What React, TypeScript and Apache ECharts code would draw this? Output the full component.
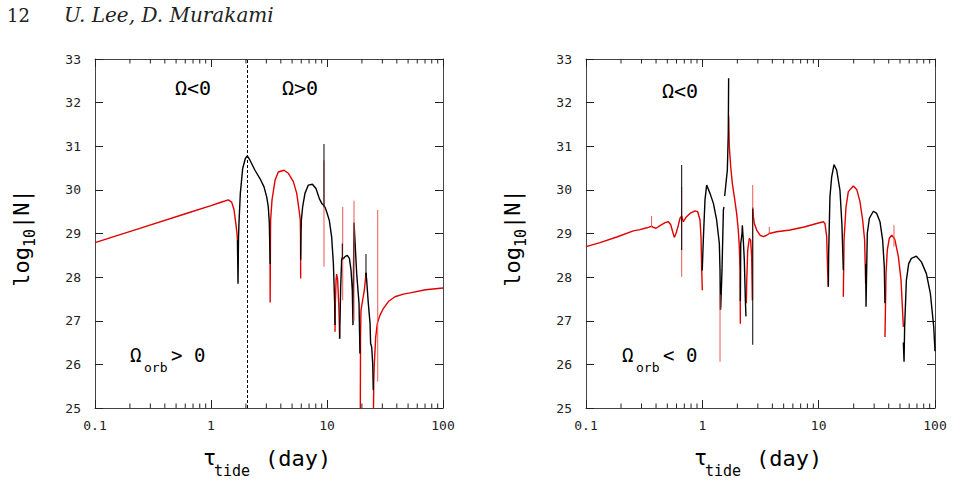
import React, { useEffect, useRef } from "react";
import * as echarts from "echarts";

type Pt = [number, number];
type Spike = [number, number, number]; // tau (day), low, high

// ---- axis ranges and tick labels ----
const X_MIN = 0.1;
const X_MAX = 100;
const Y_MIN = 25;
const Y_MAX = 33;
const xTickLabels = ["0.1", "1", "10", "100"];
const minorTickValues = [
  0.2, 0.3, 0.4, 0.5, 0.6, 0.7, 0.8, 0.9,
  2, 3, 4, 5, 6, 7, 8, 9,
  20, 30, 40, 50, 60, 70, 80, 90,
];
const omegaBoundary = 2.04; // tau where Omega changes sign (left panel)

// ---- left panel: Omega_orb > 0 ----
const leftRed: Pt[][] = [
  [[0.1, 28.79], [0.251, 29.13], [0.631, 29.47], [1.0, 29.64], [1.202, 29.71], [1.41, 29.77], [1.507, 29.72], [1.578, 29.55], [1.633, 29.25], [1.675, 29.0], [1.69, 28.85]],
  [[3.23, 28.3], [3.236, 27.42], [3.255, 28.9], [3.266, 29.31], [3.357, 29.77], [3.565, 30.22], [3.802, 30.41], [4.256, 30.45], [4.645, 30.38], [5.129, 30.19], [5.483, 29.92], [5.741, 29.54], [5.888, 29.31], [5.916, 28.9], [5.929, 27.97]],
  [[11.72, 26.75], [11.8, 27.4], [11.97, 27.93], [12.11, 28.07], [12.36, 27.93], [12.68, 27.24], [12.85, 26.59]],
  [[19.36, 24.5], [19.45, 26.6], [19.63, 27.24], [20.28, 27.47], [20.99, 27.7], [21.53, 28.0], [21.68, 28.1]],
  [[25.06, 24.5], [25.3, 25.6], [25.59, 26.02], [26.3, 26.63], [27.16, 26.94], [28.64, 27.13], [30.62, 27.28], [33.81, 27.44], [38.55, 27.55], [45.5, 27.61], [52.0, 27.64], [70.8, 27.71], [100, 27.75]],
];
const leftBlack: Pt[][] = [
  [[1.69, 28.85], [1.71, 27.85], [1.726, 28.9], [1.742, 29.23], [1.79, 29.92], [1.875, 30.49], [1.977, 30.72], [2.056, 30.78], [2.168, 30.68], [2.393, 30.45], [2.643, 30.26], [2.864, 30.07], [3.02, 29.84], [3.119, 29.61], [3.184, 29.23], [3.221, 28.5], [3.23, 28.3]],
  [[5.929, 28.4], [5.97, 29.0], [6.012, 29.31], [6.166, 29.61], [6.457, 29.92], [6.902, 30.11], [7.482, 30.13], [8.035, 30.03], [8.59, 29.8], [9.057, 29.68], [9.419, 29.64], [9.616, 29.6], [9.931, 29.5], [10.47, 29.3], [10.96, 28.93], [11.35, 28.31], [11.64, 27.4], [11.72, 26.9]],
  [[12.85, 26.59], [13.12, 27.78], [13.37, 28.39], [13.55, 28.45], [13.84, 28.42], [14.29, 28.47], [14.96, 28.5], [15.6, 28.43], [16.11, 28.16], [16.52, 27.7], [16.75, 26.9], [16.98, 28.5], [17.1, 29.25], [18.03, 28.08], [18.88, 27.4], [19.23, 26.25]],
  [[21.68, 28.1], [21.98, 27.93], [22.7, 27.4], [23.5, 26.94], [23.77, 26.48], [24.27, 26.4], [24.77, 26.02], [25.06, 25.41]],
];
const leftRedSpikes: Spike[] = [
  [9.419, 28.24, 30.68],
  [13.65, 27.47, 29.61],
  [17.1, 27.0, 29.75],
  [27.35, 25.6, 29.54],
];
const leftBlackSpikes: Spike[] = [
  [9.419, 29.6, 31.05],
  [13.55, 28.4, 28.77],
  [21.68, 28.0, 28.53],
];

// ---- right panel: Omega_orb < 0 ----
const rightRed: Pt[][] = [
  [[0.1, 28.7], [0.132, 28.79], [0.184, 28.92], [0.255, 29.06], [0.291, 29.09], [0.321, 29.12], [0.344, 29.14], [0.366, 29.17], [0.379, 29.14], [0.4, 29.12], [0.433, 29.18], [0.478, 29.25], [0.511, 29.27], [0.535, 29.2], [0.556, 29.04], [0.574, 28.91], [0.594, 29.0], [0.622, 29.19], [0.643, 29.35], [0.664, 29.4], [0.687, 29.27], [0.724, 29.37], [0.783, 29.46], [0.865, 29.52], [0.912, 29.5], [0.955, 29.31], [0.975, 28.9], [0.986, 28.24], [1.0, 27.7]],
  [[1.683, 31.7], [1.706, 30.99], [1.754, 30.53], [1.811, 30.15], [1.884, 29.84], [1.972, 29.46], [2.037, 29.08], [2.08, 28.7], [2.109, 28.16], [2.123, 26.93]],
  [[2.388, 27.4], [2.404, 27.85], [2.455, 28.62], [2.535, 28.89], [2.6, 28.85], [2.655, 28.47], [2.692, 27.47]],
  [[2.71, 29.6], [2.748, 29.38], [2.799, 29.23], [2.931, 29.08], [3.133, 28.96], [3.342, 28.93], [3.573, 28.96], [3.767, 29.0], [4.355, 29.04], [5.675, 29.08], [7.5, 29.15], [9.616, 29.23], [10.96, 29.27], [11.32, 29.23], [11.72, 28.93], [11.94, 28.16], [12.11, 27.78]],
  [[16.29, 27.55], [16.52, 28.85], [17.18, 29.61], [17.99, 29.96], [19.86, 30.09], [21.23, 30.01], [22.65, 29.73], [23.88, 29.31], [24.83, 28.85], [25.35, 27.85]],
  [[37.15, 26.63], [37.93, 28.08], [38.9, 28.62], [40.46, 28.89], [42.46, 28.96], [44.36, 28.9], [45.29, 28.85], [48.42, 28.47], [51.05, 27.93], [53.46, 26.86]],
];
const rightBlack: Pt[][] = [
  [[0.998, 28.15], [1.021, 28.9], [1.054, 29.77], [1.089, 30.11], [1.164, 29.92], [1.245, 29.69], [1.327, 29.31], [1.4, 28.77], [1.419, 28.16], [1.429, 27.25], [1.439, 27.3], [1.476, 28.16], [1.517, 29.54], [1.535, 29.61]],
  [[1.556, 29.86], [1.641, 30.46], [1.671, 31.3], [1.683, 32.56]],
  [[2.123, 27.45], [2.138, 28.77], [2.193, 29.0], [2.208, 29.19], [2.249, 28.85], [2.296, 28.39], [2.344, 27.47], [2.371, 27.1]],
  [[12.11, 27.78], [12.19, 28.55], [12.5, 29.84], [12.94, 30.3], [13.55, 30.58], [14.29, 30.45], [15.24, 29.99], [15.85, 29.2], [16.29, 28.16]],
  [[25.35, 28.3], [25.53, 27.32], [26.18, 29.0], [27.29, 29.35], [29.51, 29.51], [31.55, 29.46], [33.65, 29.27], [35.48, 28.85], [36.64, 28.24], [37.15, 27.4]],
  [[53.46, 26.5], [54.2, 26.06], [54.83, 26.86], [56.75, 27.93], [59.43, 28.31], [62.66, 28.43], [69.18, 28.48], [76.38, 28.35], [84.33, 28.08], [91.2, 27.63], [97.5, 26.86], [100, 26.3]],
];
const rightRedSpikes: Spike[] = [
  [0.366, 29.14, 29.4],
  [0.664, 28.01, 30.07],
  [1.419, 26.06, 27.6],
  [2.71, 27.5, 30.11],
  [3.767, 29.0, 29.15],
  [44.36, 28.7, 29.19],
];
const rightBlackSpikes: Spike[] = [
  [0.664, 28.62, 30.57],
  [2.71, 26.45, 29.57],
];

// ---- styles ----
const RED = "#e00000";
const RED_SPIKE = "#ee5555";
const BLACK = "#000000";
const FRAME = "#444444";
const TICK = "#222222";
const MONO = "'DejaVu Sans Mono', monospace";
const SERIF = "'DejaVu Serif', serif";

const grids = [
  { left: 95, top: 59, width: 348, height: 349 },
  { left: 586, top: 59, width: 349, height: 349 },
];

function lineSeries(data: Pt[], color: string, idx: number, width = 1.4, opacity = 1) {
  return {
    type: "line",
    xAxisIndex: idx * 2,
    yAxisIndex: idx * 2,
    data,
    showSymbol: false,
    symbol: "none",
    silent: true,
    clip: true,
    lineStyle: { color, width, opacity },
  };
}

function spikeSeries(spikes: Spike[], color: string, idx: number) {
  return spikes.map((s) =>
    lineSeries([[s[0], s[1]], [s[0], s[2]]], color, idx, 1.1, 0.9)
  );
}

function minorTickSeries(idx: number) {
  return {
    type: "custom",
    xAxisIndex: idx * 2,
    yAxisIndex: idx * 2,
    silent: true,
    clip: false,
    data: minorTickValues.map((v) => [v, Y_MIN]),
    encode: { x: 0, y: 1 },
    renderItem: (_params: any, api: any) => {
      const v = api.value(0);
      const b = api.coord([v, Y_MIN]);
      const t = api.coord([v, Y_MAX]);
      const style = { stroke: TICK, lineWidth: 1 };
      return {
        type: "group",
        children: [
          { type: "line", shape: { x1: b[0], y1: b[1], x2: b[0], y2: b[1] - 4.5 }, style },
          { type: "line", shape: { x1: t[0], y1: t[1], x2: t[0], y2: t[1] + 4.5 }, style },
        ],
      };
    },
  };
}

function xAxes(idx: number) {
  const common = {
    type: "log",
    logBase: 10,
    gridIndex: idx,
    min: X_MIN,
    max: X_MAX,
    axisLine: { show: true, onZero: false, lineStyle: { color: FRAME, width: 1 } },
    axisTick: { show: true, inside: true, length: 8, lineStyle: { color: TICK, width: 1 } },
    splitLine: { show: false },
    minorTick: { show: false },
  };
  return [
    {
      ...common,
      position: "bottom",
      axisLabel: {
        show: true,
        margin: 11,
        fontFamily: MONO,
        fontSize: 13,
        color: "#222",
        formatter: (v: number) => xTickLabels[Math.round(Math.log10(v)) + 1] ?? "",
      },
    },
    { ...common, position: "top", axisLabel: { show: false } },
  ];
}

function yAxes(idx: number) {
  const common = {
    type: "value",
    gridIndex: idx,
    min: Y_MIN,
    max: Y_MAX,
    interval: 1,
    axisLine: { show: true, onZero: false, lineStyle: { color: FRAME, width: 1 } },
    axisTick: { show: true, inside: true, length: 8, lineStyle: { color: TICK, width: 1 } },
    splitLine: { show: false },
  };
  return [
    {
      ...common,
      position: "left",
      axisLabel: { show: true, margin: 14, fontFamily: MONO, fontSize: 13, color: "#222" },
    },
    { ...common, position: "right", axisLabel: { show: false } },
  ];
}

function txt(text: string, x: number, y: number, size: number, extra: any = {}) {
  return {
    type: "text",
    x,
    y,
    silent: true,
    style: {
      text,
      fontFamily: MONO,
      fontSize: size,
      fill: "#000",
      textAlign: "left",
      textVerticalAlign: "middle",
      ...extra,
    },
  };
}

// y-axis title "log10|N|", reading bottom to top
function yTitle(cx: number, cy: number) {
  const w = 13.24; // 22px monospace advance
  const start = -48.7;
  return {
    type: "group",
    x: cx,
    y: cy,
    rotation: Math.PI / 2,
    silent: true,
    children: [
      txt("log", start, 0, 22),
      txt("10", start + 3 * w, 9, 15),
      txt("|N|", start + 3 * w + 18.1, 0, 22),
    ],
  };
}

// x-axis title "tau_tide (day)"
function xTitle(left: number, cy: number) {
  return {
    type: "group",
    silent: true,
    children: [
      txt("τ", left, cy - 1, 22),
      txt("tide", left + 11, cy + 13, 15),
      txt("(day)", left + 62, cy, 22),
    ],
  };
}

function orbLabel(left: number, cy: number, rel: string) {
  return {
    type: "group",
    silent: true,
    children: [
      txt("Ω", left, cy, 19),
      txt("orb", left + 14, cy + 12, 13),
      txt(rel + " 0", left + 41, cy, 19),
    ],
  };
}

function buildOption() {
  const series: any[] = [];
  const panels = [
    { red: leftRed, black: leftBlack, rs: leftRedSpikes, bs: leftBlackSpikes },
    { red: rightRed, black: rightBlack, rs: rightRedSpikes, bs: rightBlackSpikes },
  ];
  panels.forEach((p, idx) => {
    p.red.forEach((seg) => series.push(lineSeries(seg, RED, idx)));
    p.black.forEach((seg) => series.push(lineSeries(seg, BLACK, idx)));
    series.push(...spikeSeries(p.rs, RED_SPIKE, idx));
    series.push(...spikeSeries(p.bs, BLACK, idx));
    series.push(minorTickSeries(idx));
  });
  // dashed boundary between Omega<0 and Omega>0 on the left panel
  series[0].markLine = {
    silent: true,
    symbol: ["none", "none"],
    label: { show: false },
    lineStyle: { color: "#000", width: 1, type: [3, 2] },
    data: [{ xAxis: omegaBoundary }],
  };

  return {
    animation: false,
    backgroundColor: "#ffffff",
    grid: grids,
    xAxis: [...xAxes(0), ...xAxes(1)],
    yAxis: [...yAxes(0), ...yAxes(1)],
    series,
    graphic: [
      {
        type: "text",
        x: 7,
        y: 15,
        silent: true,
        style: { text: "12", fontFamily: SERIF, fontSize: 18, fill: "#222", textVerticalAlign: "middle" },
      },
      {
        type: "text",
        x: 64,
        y: 15,
        silent: true,
        style: {
          text: "U. Lee, D. Murakami",
          fontFamily: SERIF,
          fontStyle: "italic",
          fontSize: 20,
          fill: "#222",
          textVerticalAlign: "middle",
        },
      },
      txt("Ω<0", 175, 88, 20),
      txt("Ω>0", 282, 88, 20),
      txt("Ω<0", 662, 91, 20),
      orbLabel(130, 355, ">"),
      orbLabel(622, 355, "<"),
      yTitle(21, 238),
      yTitle(512, 238),
      xTitle(203, 458),
      xTitle(694, 458),
    ],
  };
}

export default function App() {
  const ref = useRef<HTMLDivElement>(null);
  useEffect(() => {
    if (!ref.current) return;
    const chart = echarts.init(ref.current, null, { renderer: "svg" });
    chart.setOption(buildOption() as any);
    return () => chart.dispose();
  }, []);
  return (
    <div
      ref={ref}
      style={{ position: "absolute", left: 0, top: 0, width: 954, height: 499, background: "#fff" }}
    />
  );
}
